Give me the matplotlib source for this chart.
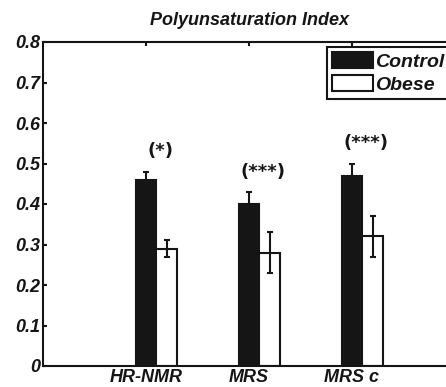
import matplotlib
matplotlib.use("Agg")
import matplotlib.pyplot as plt
import numpy as np

plt.rcParams["font.family"] = ["Liberation Sans", "DejaVu Sans"]
plt.rcParams["font.weight"] = "bold"
plt.rcParams["font.style"] = "italic"

categories = ["HR-NMR", "MRS", "MRS c"]
control = [0.46, 0.40, 0.47]
control_err = [0.02, 0.03, 0.03]
obese = [0.29, 0.28, 0.32]
obese_err = [0.02, 0.05, 0.05]
stars = ["(*)", "(***)", "(***)"]

fig = plt.figure(figsize=(4.46, 3.87), dpi=100)
ax = fig.add_axes([43 / 446, 21 / 387, 412 / 446, 324 / 387])

x = np.arange(1, len(categories) + 1)
w = 0.2
ink = "#151515"
ax.bar(x, control, w, color=ink, edgecolor=ink, linewidth=1.5,
       label="Control", zorder=2)
ax.bar(x + w, obese, w, color="white", edgecolor=ink, linewidth=1.5,
       label="Obese", zorder=2)
ax.errorbar(x, control, yerr=control_err, fmt="none", ecolor=ink,
            elinewidth=1.5, capsize=2, capthick=1.5, zorder=1)
ax.errorbar(x + w, obese, yerr=obese_err, fmt="none", ecolor=ink,
            elinewidth=1.5, capsize=2, capthick=1.5, zorder=3)

for xi, c, e, s in zip(x, control, control_err, stars):
    ax.text(xi + 0.14, c + e + 0.05, s, ha="center", va="center",
            fontsize=13, fontweight="bold", fontstyle="normal",
            family="DejaVu Sans", color=ink)

ax.set_xlim(0, 4)
ax.set_ylim(0, 0.8)
ax.set_xticks(x)
ax.set_xticklabels(categories, fontsize=13)
ax.set_yticks(np.arange(0, 0.81, 0.1))
ax.set_yticklabels(["0"] + [f"{v:.1f}" for v in np.arange(0.1, 0.81, 0.1)], fontsize=13)
ax.tick_params(direction="in", length=3, width=1.5, top=True, right=True, pad=2,
               colors=ink)
ax.tick_params(axis="x", pad=2.5)
for sp in ax.spines.values():
    sp.set_linewidth(1.5)
    sp.set_color(ink)

ax.set_title("Polyunsaturation Index", fontsize=13, fontweight="bold",
             fontstyle="italic", pad=12, color=ink)

leg = ax.legend(loc="upper left", bbox_to_anchor=(0.689, 0.985), borderaxespad=0,
                fontsize=14, handlelength=2.1, handleheight=0.95, handletextpad=0.15,
                borderpad=0.25, labelspacing=0.2, fancybox=False, framealpha=1)
leg.get_frame().set_edgecolor(ink)
leg.get_frame().set_linewidth(1.5)
for t in leg.get_texts():
    t.set_color(ink)

fig.savefig("out.png", dpi=100)
